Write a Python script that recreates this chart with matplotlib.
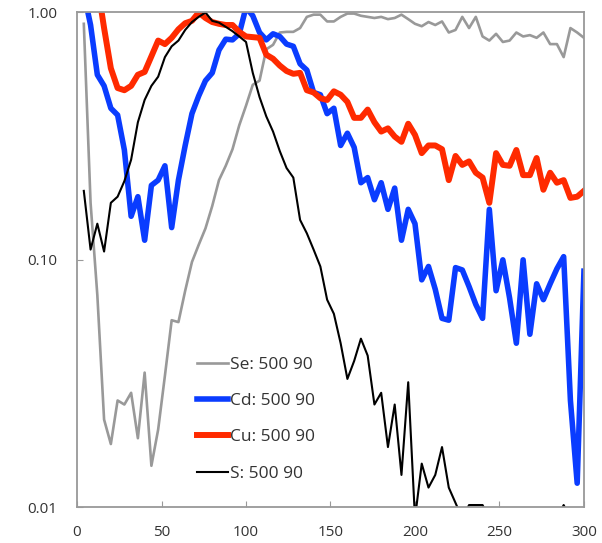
import numpy as np
import matplotlib
matplotlib.use('Agg')
import matplotlib.pyplot as plt

plt.rcParams['font.family'] = ['Open Sans', 'DejaVu Sans']

# sample positions (shared by all four series)
x = np.arange(4, 301, 4)

se = [0.9, 0.17, 0.072, 0.0226, 0.018, 0.027, 0.026, 0.029, 0.019, 0.035,
      0.0147, 0.0206, 0.034, 0.057, 0.056, 0.075, 0.098, 0.115, 0.134, 0.165,
      0.21, 0.24, 0.28, 0.35, 0.42, 0.51, 0.53, 0.71, 0.74, 0.83,
      0.835, 0.835, 0.865, 0.96, 0.98, 0.98, 0.92, 0.92, 0.96, 0.99,
      0.99, 0.97, 0.96, 0.95, 0.96, 0.94, 0.95, 0.98, 0.94, 0.90,
      0.88, 0.915, 0.89, 0.92, 0.83, 0.85, 0.96, 0.865, 0.96, 0.80,
      0.77, 0.82, 0.76, 0.77, 0.83, 0.80, 0.81, 0.79, 0.83, 0.745,
      0.745, 0.66, 0.865, 0.83, 0.79]

cd = [1.2, 0.89, 0.56, 0.505, 0.41, 0.385, 0.278, 0.15, 0.18, 0.12,
      0.20, 0.21, 0.24, 0.135, 0.21, 0.29, 0.39, 0.46, 0.53, 0.57,
      0.705, 0.78, 0.775, 0.82, 1.05, 0.97, 0.83, 0.775, 0.82, 0.80,
      0.745, 0.73, 0.62, 0.585, 0.475, 0.465, 0.39, 0.41, 0.29, 0.325,
      0.285, 0.205, 0.215, 0.175, 0.205, 0.16, 0.195, 0.12, 0.16, 0.14,
      0.083, 0.094, 0.076, 0.058, 0.057, 0.093, 0.091, 0.078, 0.066, 0.058,
      0.16, 0.075, 0.10, 0.07, 0.046, 0.10, 0.05, 0.08, 0.069, 0.08,
      0.092, 0.103, 0.027, 0.0125, 0.09]

cu = [2.5, 1.8, 1.3, 0.865, 0.595, 0.495, 0.485, 0.505, 0.56, 0.575,
      0.665, 0.77, 0.745, 0.79, 0.855, 0.905, 0.925, 1.0, 0.95, 0.915,
      0.90, 0.89, 0.89, 0.835, 0.80, 0.795, 0.79, 0.675, 0.65, 0.61,
      0.58, 0.565, 0.57, 0.485, 0.475, 0.45, 0.443, 0.48, 0.465, 0.435,
      0.375, 0.375, 0.405, 0.36, 0.33, 0.34, 0.315, 0.30, 0.355, 0.32,
      0.27, 0.29, 0.29, 0.28, 0.21, 0.263, 0.242, 0.25, 0.225, 0.215,
      0.17, 0.27, 0.242, 0.24, 0.278, 0.22, 0.22, 0.258, 0.192, 0.225,
      0.205, 0.21, 0.178, 0.18, 0.19]

s = [0.19, 0.11, 0.14, 0.108, 0.17, 0.18, 0.208, 0.254, 0.36, 0.443,
     0.505, 0.55, 0.66, 0.73, 0.77, 0.85, 0.915, 0.96, 1.0, 0.925,
     0.91, 0.875, 0.84, 0.80, 0.76, 0.57, 0.455, 0.38, 0.33, 0.275,
     0.235, 0.215, 0.145, 0.128, 0.11, 0.094, 0.069, 0.0605, 0.046, 0.033,
     0.039, 0.048, 0.041, 0.026, 0.029, 0.0175, 0.026, 0.0135, 0.032, 0.009,
     0.015, 0.012, 0.0135, 0.0175, 0.012, 0.0104, 0.009, 0.0102, 0.0102, 0.0102,
     0.009, 0.009, 0.009, 0.009, 0.009, 0.009, 0.009, 0.009, 0.009, 0.009,
     0.009, 0.0102, 0.009, 0.009, 0.009]

labels = ['Se: 500 90', 'Cd: 500 90', 'Cu: 500 90', 'S: 500 90']

fig = plt.figure(figsize=(6.02, 5.43), dpi=100)
ax = fig.add_axes([0.128, 0.066, 0.842, 0.911])

ax.plot(x, se, color='#999999', lw=1.9, label=labels[0])
ax.plot(x, cd, color='#0a3cff', lw=4.0, label=labels[1])
ax.plot(x, cu, color='#ff2a00', lw=4.3, label=labels[2])
ax.plot(x, s, color='black', lw=1.5, label=labels[3])

ax.set_yscale('log')
ax.set_xlim(0, 300)
ax.set_ylim(0.01, 1.0)
ax.set_yticks([0.01, 0.1, 1.0])
ax.set_yticklabels(['0.01', '0.10', '1.00'])
ax.minorticks_off()
ax.set_xticks(range(0, 301, 50))

for sp in ax.spines.values():
    sp.set_color('#999999')
    sp.set_linewidth(1.3)
ax.tick_params(direction='in', length=4, color='#999999', labelsize=11,
               labelcolor='#333333')
ax.tick_params(axis='x', pad=13)
ax.tick_params(axis='y', pad=14)

ax.legend(loc='upper left', bbox_to_anchor=(0.205, 0.335), frameon=False,
          fontsize=12.5, handlelength=1.8, handletextpad=0.1,
          labelspacing=1.15, labelcolor='#333333')

fig.savefig('out.png', dpi=100)
